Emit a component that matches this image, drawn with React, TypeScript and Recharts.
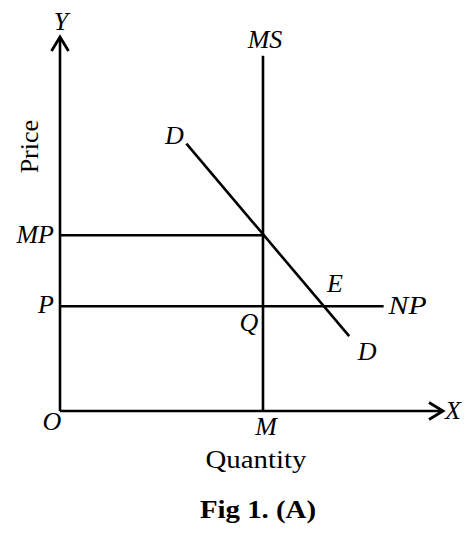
import React from 'react';
import { ComposedChart, Line, XAxis, YAxis, ReferenceDot, Label } from 'recharts';

// ---- data (economic units) ----
const quantityDomain: [number, number] = [0, 100];
const priceDomain: [number, number] = [0, 100];
const marketSupplyQty = 53; // M
const marketSupplyTop = 95; // top of MS line
const marketPrice = 47; // MP
const normalPrice = 28; // P
const normalPriceEnd = 84.5; // end of NP line
const demandQty = [33, 75.5];
const demandPrice = [71.5, 20];

const demandData = demandQty.map((q, i) => ({ q, p: demandPrice[i] }));
const msData = [
  { q: marketSupplyQty, p: 0 },
  { q: marketSupplyQty, p: marketSupplyTop },
];
const mpData = [
  { q: 0, p: marketPrice },
  { q: marketSupplyQty, p: marketPrice },
];
const npData = [
  { q: 0, p: normalPrice },
  { q: normalPriceEnd, p: normalPrice },
];
const xAxisData = [
  { q: quantityDomain[0], p: priceDomain[0] },
  { q: quantityDomain[1], p: priceDomain[0] },
];
const yAxisData = [
  { q: quantityDomain[0], p: priceDomain[0] },
  { q: quantityDomain[0], p: priceDomain[1] },
];
// equilibrium E: demand meets NP
const eqQty =
  demandQty[0] +
  ((demandPrice[0] - normalPrice) * (demandQty[1] - demandQty[0])) / (demandPrice[0] - demandPrice[1]);

const FONT = 'Liberation Serif, Times New Roman, Times, serif';

type TxtOpts = { anchor?: 'start' | 'middle' | 'end'; italic?: boolean; bold?: boolean; len?: number; rotate?: boolean };
const txt = (text: string, dx: number, dy: number, opts: TxtOpts = {}) => (props: any) => {
  const vb = props.viewBox || {};
  const x = (vb.x || 0) + (vb.width || 0) / 2 + dx;
  const y = (vb.y || 0) + (vb.height || 0) / 2 + dy;
  return (
    <text
      x={x}
      y={y}
      textAnchor={opts.anchor || 'middle'}
      style={{
        fontFamily: FONT,
        fontSize: 26,
        fontStyle: opts.italic === false ? 'normal' : 'italic',
        fontWeight: opts.bold ? 'bold' : 'normal',
      }}
      fill="#000"
      textLength={opts.len}
      lengthAdjust={opts.len ? 'spacingAndGlyphs' : undefined}
      transform={opts.rotate ? `rotate(-90 ${x} ${y})` : undefined}
    >
      {text}
    </text>
  );
};

const lineProps = {
  dataKey: 'p',
  stroke: '#000',
  strokeWidth: 2.6,
  dot: false,
  activeDot: false,
  isAnimationActive: false,
  legendType: 'none' as const,
};

const dotProps = { r: 0, fill: 'none', stroke: 'none', ifOverflow: 'visible' as const };

export default function App() {
  return (
    <div style={{ position: 'absolute', left: 0, top: 0, width: 474, height: 541, background: '#fff' }}>
      <svg width={0} height={0} style={{ position: 'absolute' }}>
        <defs>
          <marker
            id="arrowHead"
            viewBox="0 0 20 20"
            refX={16}
            refY={10}
            markerWidth={20}
            markerHeight={20}
            markerUnits="userSpaceOnUse"
            orient="auto-start-reverse"
          >
            <path d="M2,1.5 L16,10 L2,18.5" fill="none" stroke="#000" strokeWidth={2.8} />
          </marker>
        </defs>
      </svg>
      <ComposedChart width={474} height={541} margin={{ top: 37, right: 31, bottom: 130, left: 60 }}>
        <XAxis type="number" dataKey="q" domain={quantityDomain} hide />
        <YAxis type="number" dataKey="p" domain={priceDomain} hide />
        <Line data={xAxisData} {...lineProps} {...({ markerEnd: 'url(#arrowHead)' } as any)} />
        <Line data={yAxisData} {...lineProps} {...({ markerEnd: 'url(#arrowHead)' } as any)} />
        <Line data={msData} {...lineProps} />
        <Line data={mpData} {...lineProps} />
        <Line data={npData} {...lineProps} />
        <Line data={demandData} {...lineProps} />

        <ReferenceDot x={0} y={priceDomain[1]} {...dotProps}>
          <Label content={txt('Y', 1, -7)} />
        </ReferenceDot>
        <ReferenceDot x={0} y={(priceDomain[0] + priceDomain[1]) / 2 + 14} {...dotProps}>
          <Label content={txt('Price', -22, -25, { italic: false, rotate: true })} />
        </ReferenceDot>
        <ReferenceDot x={0} y={marketPrice} {...dotProps}>
          <Label content={txt('MP', -6, 8, { anchor: 'end' })} />
        </ReferenceDot>
        <ReferenceDot x={0} y={normalPrice} {...dotProps}>
          <Label content={txt('P', -6, 7, { anchor: 'end' })} />
        </ReferenceDot>
        <ReferenceDot x={0} y={0} {...dotProps}>
          <Label content={txt('O', -8, 19)} />
        </ReferenceDot>
        <ReferenceDot x={quantityDomain[1]} y={0} {...dotProps}>
          <Label content={txt('X', 10, 8)} />
        </ReferenceDot>
        <ReferenceDot x={marketSupplyQty} y={0} {...dotProps}>
          <Label content={txt('M', 3, 24)} />
        </ReferenceDot>
        <ReferenceDot x={marketSupplyQty} y={0} {...dotProps}>
          <Label content={txt('Quantity', -7, 57, { italic: false, len: 101 })} />
        </ReferenceDot>
        <ReferenceDot x={marketSupplyQty} y={0} {...dotProps}>
          <Label content={txt('Fig 1. (A)', -5, 107, { italic: false, bold: true, len: 116 })} />
        </ReferenceDot>
        <ReferenceDot x={marketSupplyQty} y={marketSupplyTop} {...dotProps}>
          <Label content={txt('MS', 2, -8)} />
        </ReferenceDot>
        <ReferenceDot x={marketSupplyQty} y={normalPrice} {...dotProps}>
          <Label content={txt('Q', -14, 25)} />
        </ReferenceDot>
        <ReferenceDot x={demandQty[0]} y={demandPrice[0]} {...dotProps}>
          <Label content={txt('D', -12, 0)} />
        </ReferenceDot>
        <ReferenceDot x={demandQty[1]} y={demandPrice[1]} {...dotProps}>
          <Label content={txt('D', 18, 24)} />
        </ReferenceDot>
        <ReferenceDot x={eqQty} y={normalPrice} {...dotProps}>
          <Label content={txt('E', 11, -14)} />
        </ReferenceDot>
        <ReferenceDot x={normalPriceEnd} y={normalPrice} {...dotProps}>
          <Label content={txt('NP', 5, 8, { anchor: 'start', len: 38 })} />
        </ReferenceDot>
      </ComposedChart>
    </div>
  );
}
